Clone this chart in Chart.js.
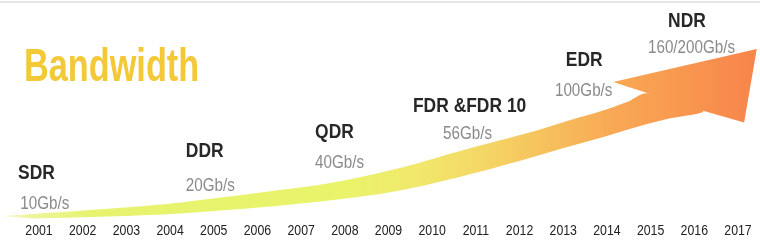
<!DOCTYPE html>
<html>
<head>
<meta charset="utf-8">
<script src="https://cdn.jsdelivr.net/npm/chart.js@4.4.1/dist/chart.umd.min.js"></script>
<style>
  html, body { margin: 0; padding: 0; background: #ffffff; }
  #wrap { position: relative; width: 760px; height: 244px; overflow: hidden; }
  #topline { position: absolute; left: 0; top: 1px; width: 760px; height: 2px; background: #e3e5e7; }
  canvas { display: block; }
</style>
</head>
<body>
<div id="wrap">
  <canvas id="c" width="760" height="244"></canvas>
  <div id="topline"></div>
</div>
<script>
// ---------------- data ----------------
const years = [2001, 2002, 2003, 2004, 2005, 2006, 2007, 2008, 2009,
               2010, 2011, 2012, 2013, 2014, 2015, 2016, 2017];
const tickLabels = ['2001', '2002', '2003', '2004', '2005', '2006', '2007', '2008', '2009',
                    '2010', '2011', '2012', '2013', '2014', '2015', '2016', '2017'];

const generations = ['SDR', 'DDR', 'QDR', 'FDR &FDR 10', 'EDR', 'NDR'];
const speeds = ['10Gb/s', '20Gb/s', '40Gb/s', '56Gb/s', '100Gb/s', '160/200Gb/s'];
const titleText = 'Bandwidth';

// growth band (upper edge, left -> right, ends at the arrow's inner notch)
const upperEdgeYears  = [2000.15, 2000.86, 2002.40, 2003.93, 2004.69, 2006.22, 2007.73,
                         2009.26, 2010.80, 2012.31, 2013.09, 2013.84, 2014.46, 2014.94];
const upperEdgeValues = [4, 6, 10.7, 16, 20, 28.3, 37.5, 52, 71, 88.5, 99, 108.5, 118, 126.7];

// growth band (lower edge, right -> left, starts at the arrow's lower joint)
const lowerEdgeYears  = [2016.20, 2015.37, 2014.60, 2013.84, 2013.09, 2012.31, 2010.80, 2009.26,
                         2007.73, 2006.22, 2004.69, 2003.93, 2002.40, 2000.86];
const lowerEdgeValues = [109.3, 101, 92, 82, 73, 63, 45, 29.5, 20, 13.3, 8, 5.7, 3.2, 1.5];

// arrow head: inner notch, notch point, tip, lower barb, lower joint
const arrowYears  = [2014.94, 2014.14, 2017.43, 2017.14, 2016.20];
const arrowValues = [126.7, 138, 171, 97.5, 109.3];

// ---------------- build ----------------
const bandOutline = []
  .concat(upperEdgeYears.map((x, i) => ({ x, y: upperEdgeValues[i] })))
  .concat(lowerEdgeYears.map((x, i) => ({ x, y: lowerEdgeValues[i] })));
const arrowOutline = arrowYears.map((x, i) => ({ x, y: arrowValues[i] }));

function bandGradient(context) {
  const chart = context.chart;
  const area = chart.chartArea;
  if (!area) return '#f5c85a';
  const g = chart.ctx.createLinearGradient(area.left, 0, area.right, 0);
  g.addColorStop(0.00, '#f6fad2');
  g.addColorStop(0.04, '#edf59c');
  g.addColorStop(0.12, '#e7f36f');
  g.addColorStop(0.45, '#e9f46a');
  g.addColorStop(0.55, '#f1e86c');
  g.addColorStop(0.63, '#f4d866');
  g.addColorStop(0.72, '#f6c05c');
  g.addColorStop(0.80, '#f8aa55');
  g.addColorStop(0.90, '#f8974f');
  g.addColorStop(1.00, '#f7834a');
  return g;
}

// condensed look of the reference's axis labels: the x axis still lays out
// and positions its own tick labels, they are only drawn narrower.
const condensedTicks = {
  id: 'condensedTicks',
  beforeDraw(chart, args, opts) {
    const scale = chart.scales.x;
    if (!scale || scale._condensed) return;
    scale._condensed = true;
    scale.drawLabels = function (area) {
      const ctx = this.ctx;
      const items = this.getLabelItems(area);
      for (const item of items) {
        const o = item.options;
        ctx.save();
        ctx.translate(o.translation[0], o.translation[1]);
        ctx.scale(opts.squeeze, 1);
        ctx.font = item.font.string;
        ctx.fillStyle = o.color;
        ctx.textAlign = o.textAlign;
        ctx.textBaseline = o.textBaseline;
        ctx.fillText(item.label, 0, item.textOffset);
        ctx.restore();
      }
    };
  }
};

const textPlugin = {
  id: 'bwText',
  afterDatasetsDraw(chart, args, opts) {
    const { ctx, scales: { x, y } } = chart;
    const draw = (txt, pos, font, color, sx) => {
      ctx.save();
      ctx.translate(x.getPixelForValue(pos[0]), y.getPixelForValue(pos[1]));
      ctx.scale(sx, 1);
      ctx.font = font;
      ctx.fillStyle = color;
      ctx.textAlign = 'left';
      ctx.textBaseline = 'alphabetic';
      ctx.fillText(txt, 0, 0);
      ctx.restore();
    };
    draw(titleText, opts.titleAt, 'bold 46px "Liberation Sans", Arial, sans-serif', opts.titleColor, 0.745);
    generations.forEach((g, i) => {
      draw(g, opts.nameAt[i], 'bold 21px "Liberation Sans", Arial, sans-serif', opts.nameColor, 0.83);
      draw(speeds[i], opts.speedAt[i], '18px "Liberation Sans", Arial, sans-serif', opts.speedColor, 0.845);
    });
  }
};

new Chart(document.getElementById('c'), {
  type: 'line',
  data: {
    datasets: [{
      data: bandOutline,
      fill: 'shape',
      backgroundColor: bandGradient,
      borderWidth: 0,
      pointRadius: 0,
      tension: 0.35,
      clip: false
    }, {
      data: arrowOutline,
      fill: 'shape',
      backgroundColor: bandGradient,
      borderWidth: 0,
      pointRadius: 0,
      tension: 0,
      clip: false
    }]
  },
  options: {
    responsive: false,
    animation: false,
    events: [],
    layout: { padding: { left: 0, right: 0, top: 0, bottom: 2 } },
    scales: {
      x: {
        type: 'linear',
        min: 2000.107,
        max: 2017.504,
        grid: { display: false, drawTicks: false },
        border: { display: false },
        afterBuildTicks: (axis) => { axis.ticks = years.map(v => ({ value: v })); },
        ticks: {
          autoSkip: false,
          maxRotation: 0,
          minRotation: 0,
          padding: 2,
          color: '#222222',
          font: { family: '"Liberation Sans", Arial, sans-serif', size: 15 },
          callback: (v) => tickLabels[years.indexOf(v)]
        }
      },
      y: { type: 'linear', min: 0, max: 220, display: false }
    },
    plugins: {
      legend: { display: false },
      tooltip: { enabled: false },
      title: { display: false },
      condensedTicks: { squeeze: 0.82 },
      bwText: {
        titleColor: '#f3c938',
        nameColor: '#272727',
        speedColor: '#8a8a8a',
        titleAt: [2000.657, 139],
        nameAt:  [[2000.52, 41], [2004.36, 63], [2007.32, 82.5], [2009.56, 108.5], [2013.06, 154], [2015.40, 193.3]],
        speedAt: [[2000.57, 11], [2004.36, 29], [2007.32, 52.5], [2010.25, 81.5], [2012.81, 124], [2014.94, 167.3]]
      }
    }
  },
  plugins: [condensedTicks, textPlugin]
});
</script>
</body>
</html>
